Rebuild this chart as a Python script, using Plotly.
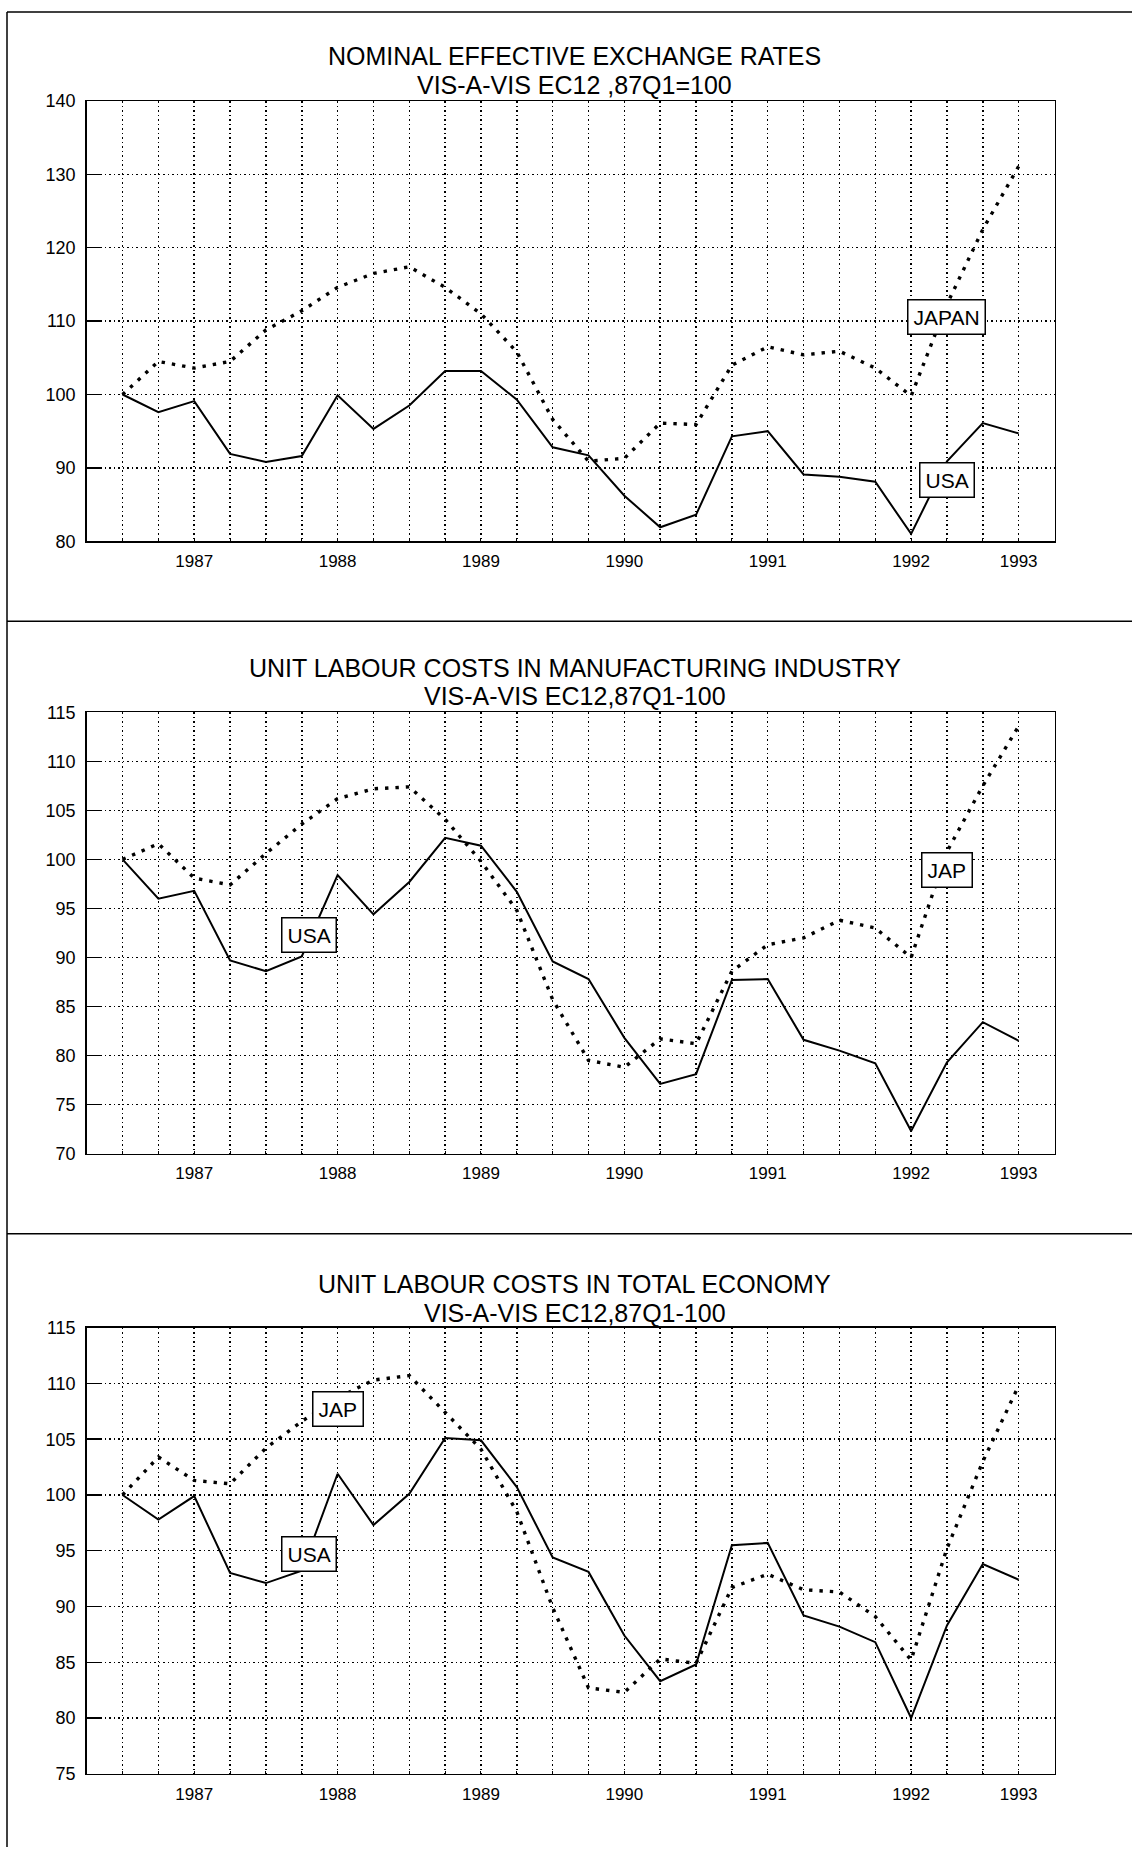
import plotly.graph_objects as go

# ---------------- data ----------------
quarters = ["87Q1", "87Q2", "87Q3", "87Q4", "88Q1", "88Q2", "88Q3", "88Q4",
            "89Q1", "89Q2", "89Q3", "89Q4", "90Q1", "90Q2", "90Q3", "90Q4",
            "91Q1", "91Q2", "91Q3", "91Q4", "92Q1", "92Q2", "92Q3", "92Q4",
            "93Q1", "93Q2"]
year_label_quarters = ["87Q3", "88Q3", "89Q3", "90Q3", "91Q3", "92Q3", "93Q2"]
year_labels = ["1987", "1988", "1989", "1990", "1991", "1992", "1993"]
major_tick_quarters = ["87Q4", "88Q4", "89Q4", "90Q4", "91Q4", "92Q4", "93Q2"]

titles = [
    ("NOMINAL EFFECTIVE EXCHANGE RATES", "VIS-A-VIS EC12 ,87Q1=100"),
    ("UNIT LABOUR COSTS IN MANUFACTURING INDUSTRY", "VIS-A-VIS EC12,87Q1-100"),
    ("UNIT LABOUR COSTS IN TOTAL ECONOMY", "VIS-A-VIS EC12,87Q1-100"),
]

nom_usa = [100.0, 97.6, 99.1, 91.9, 90.8, 91.6, 99.9, 95.3, 98.5, 103.2, 103.2, 99.3, 92.8,
           91.7, 86.2, 81.9, 83.6, 94.3, 95.0, 89.1, 88.8, 88.1, 81.0, 90.9, 96.1, 94.7]
nom_jap = [100.0, 104.5, 103.6, 104.5, 108.8, 111.4, 114.6, 116.5, 117.4, 114.6, 111.0, 105.8, 96.6,
           90.9, 91.3, 96.1, 95.9, 104.0, 106.5, 105.4, 105.9, 103.6, 99.8, 112.3, 122.5, 131.1]

mfg_usa = [100.0, 96.0, 96.8, 89.7, 88.6, 90.1, 98.4, 94.4, 97.7, 102.2, 101.4, 96.7, 89.6,
           87.8, 81.8, 77.1, 78.1, 87.7, 87.8, 81.6, 80.5, 79.2, 72.3, 79.3, 83.4, 81.5]
mfg_jap = [100.0, 101.6, 98.1, 97.4, 100.6, 103.6, 106.2, 107.2, 107.4, 104.1, 99.8, 94.8, 85.7,
           79.5, 78.8, 81.7, 81.2, 88.6, 91.3, 92.0, 93.8, 93.0, 90.0, 100.8, 107.5, 113.6]

tot_usa = [100.0, 97.8, 99.9, 93.0, 92.1, 93.2, 101.9, 97.3, 100.1, 105.1, 104.9, 100.7, 94.4,
           93.1, 87.4, 83.3, 84.8, 95.5, 95.7, 89.2, 88.2, 86.8, 80.0, 88.3, 93.8, 92.4]
tot_jap = [100.0, 103.4, 101.3, 101.0, 104.2, 106.6, 108.7, 110.3, 110.7, 107.4, 104.1, 98.5, 89.9,
           82.7, 82.3, 85.3, 84.9, 91.7, 92.9, 91.5, 91.3, 89.1, 85.2, 95.2, 103.0, 109.8]

y_ranges = [(80, 140, 10), (70, 115, 5), (75, 115, 5)]

# label boxes: (text, x position in quarter index, y value)
nom_labels = [("JAPAN", 23.0, 110.5), ("USA", 23.0, 88.4)]
mfg_labels = [("JAP", 23.0, 98.9), ("USA", 5.2, 92.25)]
tot_labels = [("JAP", 6.0, 107.7), ("USA", 5.2, 94.75)]

panels = [
    (nom_usa, nom_jap, nom_labels),
    (mfg_usa, mfg_jap, mfg_labels),
    (tot_usa, tot_jap, tot_labels),
]

# ---------------- layout geometry ----------------
W, H = 1132, 1857
FONT = "Liberation Sans, Arial, sans-serif"
x_dom = [86.7 / W, 1054.5 / W]
panel_px = [(92, 537), (710, 1156), (1332, 1783)]       # top, bottom in px
title_px = [(46, 76), (665, 693), (1288, 1317)]          # line centres in px

fig = go.Figure()
layout = dict(
    width=W, height=H, margin=dict(l=0, r=0, t=0, b=0),
    paper_bgcolor="white", plot_bgcolor="white",
    showlegend=False, font=dict(family=FONT, color="black"),
    annotations=[], shapes=[],
)

grid_dash = "1.5px,3px"

for i, (usa, jap, labels) in enumerate(panels):
    p = i + 1
    sfx = "" if p == 1 else str(p)
    xa, ya = "x" + sfx, "y" + sfx
    top, bot = panel_px[i]
    y_dom = [1 - bot / H, 1 - top / H]
    lo, hi, step = y_ranges[i]
    yticks = list(range(lo, hi + 1, step))

    fig.add_trace(go.Scatter(x=quarters, y=usa, mode="lines", xaxis=xa, yaxis=ya,
                             line=dict(color="black", width=2), name="USA"))
    fig.add_trace(go.Scatter(x=quarters, y=jap, mode="lines", xaxis=xa, yaxis=ya,
                             line=dict(color="black", width=3.4, dash="3.4px,7px"), name="JAPAN"))

    ticktext = [year_labels[year_label_quarters.index(q)] if q in year_label_quarters else ""
                for q in quarters]
    layout["xaxis" + sfx] = dict(
        domain=x_dom, anchor=ya, type="category", categoryorder="array",
        categoryarray=quarters, range=[-1, len(quarters)],
        tickmode="array", tickvals=quarters, ticktext=ticktext,
        ticks="inside", ticklen=3, tickwidth=1, tickcolor="black",
        tickfont=dict(size=17, family=FONT), ticklabelstandoff=4,
        showgrid=True, gridcolor="black", gridwidth=1.5, griddash=grid_dash,
        showline=True, linecolor="black", linewidth=1.5, mirror=True, zeroline=False,
    )
    # heavy year ticks on the bottom axis
    layout["xaxis" + str(p + 3)] = dict(
        domain=x_dom, anchor=ya, overlaying=xa, side="bottom", type="category",
        categoryorder="array", categoryarray=quarters, range=[-1, len(quarters)],
        tickmode="array", tickvals=major_tick_quarters, ticks="inside",
        ticklen=9, tickwidth=3.5, tickcolor="black", showticklabels=False,
        showgrid=False, showline=False, zeroline=False,
    )
    layout["yaxis" + sfx] = dict(
        domain=y_dom, anchor=xa, range=[lo, hi],
        tickmode="array", tickvals=yticks,
        ticks="inside", ticklen=13, tickwidth=1.5, tickcolor="black",
        tickfont=dict(size=18, family=FONT), ticklabelstandoff=6,
        showgrid=True, gridcolor="black", gridwidth=1.5, griddash=grid_dash,
        showline=True, linecolor="black", linewidth=1.5, mirror=True, zeroline=False,
    )
    layout["yaxis" + str(p + 3)] = dict(
        domain=y_dom, anchor=xa, overlaying=ya, side="right", range=[lo, hi],
        tickmode="array", tickvals=yticks,
        ticks="inside", ticklen=13, tickwidth=1.5, tickcolor="black",
        tickfont=dict(size=18, family=FONT), ticklabelstandoff=14,
        showgrid=False, showline=False, zeroline=False,
    )

    # titles
    for line, ypx in zip(titles[i], title_px[i]):
        layout["annotations"].append(dict(
            text=line, xref="paper", yref="paper", x=575 / W, y=1 - ypx / H,
            xanchor="center", yanchor="middle", showarrow=False,
            font=dict(size=25, family=FONT, color="black"),
        ))
    # boxed series labels
    for text, lx, ly in labels:
        layout["annotations"].append(dict(
            text=text, xref=xa, yref=ya, x=lx, y=ly, showarrow=False,
            xanchor="center", yanchor="middle",
            font=dict(size=21, family=FONT, color="black"),
            bgcolor="white", bordercolor="black", borderwidth=1.5, borderpad=5,
        ))

# page frame lines
frame = dict(type="line", xref="paper", yref="paper", line=dict(color="black", width=1.5))
layout["shapes"] = [
    dict(frame, x0=7 / W, x1=7 / W, y0=0, y1=1 - 2 / H),
    dict(frame, x0=7 / W, x1=1, y0=1 - 2 / H, y1=1 - 2 / H),
    dict(frame, x0=7 / W, x1=1, y0=1 - 618 / H, y1=1 - 618 / H),
    dict(frame, x0=7 / W, x1=1, y0=1 - 1237 / H, y1=1 - 1237 / H),
]

fig.update_layout(**layout)
fig.write_html(
    "out.html",
    config={"displayModeBar": False, "staticPlot": True},
    post_script="document.body.style.margin='0';document.body.style.padding='0';"
                "document.documentElement.style.overflow='hidden';",
)
